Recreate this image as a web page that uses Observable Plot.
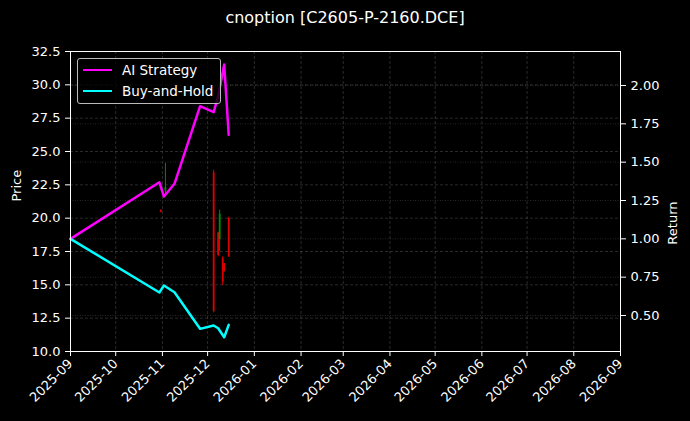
<!DOCTYPE html>
<html>
<head>
<meta charset="utf-8">
<script src="https://cdn.jsdelivr.net/npm/d3@7"></script>
<script src="https://cdn.jsdelivr.net/npm/@observablehq/plot@0.6"></script>
<style>
  body { margin: 0; background: #000; }
  #wrap { position: relative; width: 690px; height: 421px; background: #000; font-family: "DejaVu Sans", sans-serif; color: #fff; }
  #title { position: absolute; top: 8px; left: 0; width: 690px; text-align: center; font-size: 16px; line-height: 20px; }
  #chart { position: absolute; top: 36px; left: 0; }
  #legend { position: absolute; left: 77px; top: 58px; width: 142px; height: 44px; border: 1px solid #bbb; border-radius: 3px; background: rgba(0,0,0,0.8); font-size: 13.5px; }
  .item { position: absolute; left: 0; height: 16px; line-height: 16px; white-space: nowrap; }
  .sw { position: absolute; left: 5px; top: 6.5px; width: 29px; height: 0; border-top: 2.6px solid; }
  .lbl { position: absolute; left: 44px; top: 0; }
</style>
</head>
<body>
<div id="wrap">
  <div id="title">cnoption [C2605-P-2160.DCE]</div>
  <div id="chart"></div>
  <div id="legend">
    <div class="item" style="top:3px"><div class="sw" style="border-color:#ff00ff"></div><span class="lbl">AI Strategy</span></div>
    <div class="item" style="top:24px"><div class="sw" style="border-color:#00ffff"></div><span class="lbl">Buy-and-Hold</span></div>
  </div>
</div>
<script>
// ---- data ----
const priceTicks = [10, 12.5, 15, 17.5, 20, 22.5, 25, 27.5, 30, 32.5];
const returnTicks = [0.5, 0.75, 1.0, 1.25, 1.5, 1.75, 2.0];
const monthTicks = ["2025-09-01","2025-10-01","2025-11-01","2025-12-01","2026-01-01","2026-02-01","2026-03-01","2026-04-01","2026-05-01","2026-06-01","2026-07-01","2026-08-01","2026-09-01"];

const lineDates = ["2025-09-01","2025-10-30","2025-11-02","2025-11-09","2025-11-26","2025-12-05","2025-12-08","2025-12-12","2025-12-15"];
const aiReturn  = [1.00, 1.369, 1.276, 1.359, 1.865, 1.826, 1.93, 2.137, 1.678];
const bhReturn  = [1.00, 0.650, 0.696, 0.652, 0.413, 0.435, 0.417, 0.358, 0.439];

const candleDates = ["2025-10-31","2025-11-03","2025-12-05","2025-12-08","2025-12-09","2025-12-11","2025-12-12","2025-12-15"];
const candleOpen  = [20.6, 22.0, 23.4, 18.9, 18.4, 17.0, 16.6, 20.0];
const candleHigh  = [20.6, 24.1, 23.6, 18.95, 20.6, 17.1, 16.6, 20.07];
const candleLow   = [20.4, 21.8, 12.9, 17.1, 17.5, 14.95, 15.95, 17.07];
const candleClose = [20.45, 22.3, 13.0, 17.2, 20.3, 15.2, 16.0, 17.1];

// ---- build ----
const parse = d3.utcParse("%Y-%m-%d");
// twin axis: map return values onto the price scale
const retToPrice = d3.scaleLinear().domain([0.5, 2.0]).range([12.7, 29.95]);

const lines = [];
lineDates.forEach((d, i) => {
  lines.push({date: parse(d), series: "AI Strategy", ret: aiReturn[i]});
});
lineDates.forEach((d, i) => {
  lines.push({date: parse(d), series: "Buy-and-Hold", ret: bhReturn[i]});
});
const candles = candleDates.map((d, i) => ({
  date: parse(d), open: candleOpen[i], high: candleHigh[i], low: candleLow[i], close: candleClose[i]
}));
const months = monthTicks.map(parse);
const candleColor = d => d.close >= d.open ? "#008c00" : "#dd0000";

const chart = Plot.plot({
  width: 690,
  height: 385,
  marginTop: 15,
  marginBottom: 70,
  marginLeft: 70,
  marginRight: 70,
  style: {background: "#000", color: "#fff", fontFamily: "DejaVu Sans, sans-serif", fontSize: "13px"},
  x: {type: "utc", domain: [parse("2025-09-01"), parse("2026-09-01")], axis: null},
  y: {domain: [10, 32.5], axis: null},
  marks: [
    Plot.ruleY(priceTicks, {stroke: "#808080", strokeOpacity: 0.55, strokeWidth: 0.6, strokeDasharray: "3,2"}),
    Plot.ruleY(returnTicks.map(r => retToPrice(r)), {stroke: "#808080", strokeOpacity: 0.5, strokeWidth: 0.6, strokeDasharray: "1,1.5"}),
    Plot.ruleX(months, {stroke: "#808080", strokeOpacity: 0.55, strokeWidth: 0.6, strokeDasharray: "3,2"}),
    Plot.ruleX(candles, {x: "date", y1: "low", y2: "high", stroke: candleColor, strokeWidth: 1}),
    Plot.ruleX(candles, {x: "date", y1: "open", y2: "close", stroke: candleColor, strokeWidth: 1.8}),
    Plot.line(lines, {x: "date", y: d => retToPrice(d.ret), z: "series",
      stroke: d => d.series === "AI Strategy" ? "#ff00ff" : "#00ffff", strokeWidth: 2.5}),
    Plot.frame({stroke: "#fff", strokeWidth: 1}),
    Plot.axisY(priceTicks, {anchor: "left", tickFormat: d => d.toFixed(1), tickSize: 5, tickPadding: 5, label: null, stroke: "#fff"}),
    Plot.axisY(returnTicks.map(r => retToPrice(r)), {anchor: "right", tickFormat: p => retToPrice.invert(p).toFixed(2), tickSize: 5, tickPadding: 5, label: null, stroke: "#fff"}),
    Plot.axisX(months, {anchor: "bottom", tickFormat: d3.utcFormat("%Y-%m"), tickRotate: -45, tickSize: 5, tickPadding: 5, label: null, stroke: "#fff"}),
    Plot.text(["Price"], {frameAnchor: "left", dx: -54, rotate: -90, fill: "#fff", fontSize: 13}),
    Plot.text(["Return"], {frameAnchor: "right", dx: 52, rotate: -90, fill: "#fff", fontSize: 13})
  ]
});
document.getElementById("chart").appendChild(chart);
</script>
</body>
</html>
